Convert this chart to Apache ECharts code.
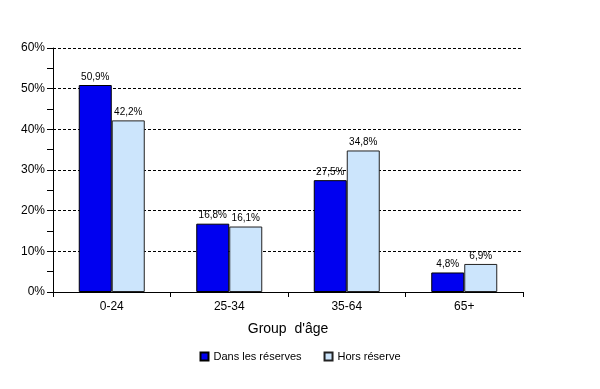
<!DOCTYPE html>
<html><head><meta charset="utf-8">
<script src="https://cdn.jsdelivr.net/npm/echarts@6/dist/echarts.min.js"></script>
<style>html,body{margin:0;padding:0;background:#fff}#c{width:600px;height:389px}</style>
</head><body><div id="c"></div>
<script>
var categories = ['0-24', '25-34', '35-64', '65+'];
var dansReserves = [50.9, 16.8, 27.5, 4.8];
var horsReserve = [42.2, 16.1, 34.8, 6.9];
var seriesNames = ['Dans les réserves', 'Hors réserve'];
var axisTitle = "Group  d'âge";

var font = 'Liberation Sans, Arial, sans-serif';
function fmt(v){ return v.toFixed(1).replace('.', ',') + '%'; }
var chart = echarts.init(document.getElementById('c'), null, {renderer:'canvas'});
chart.setOption({
  animation: false,
  backgroundColor: '#fff',
  grid: {left: 53, right: 77, top: 48, bottom: 97, containLabel: false},
  legend: {
    bottom: 22, left: 'center', itemWidth: 8, itemHeight: 8, itemGap: 22,
    textStyle: {fontFamily: font, fontSize: 11, color: '#000'},
    data: seriesNames.map(function(n){return {name:n, icon:'rect'};})
  },
  xAxis: {
    type: 'category', data: categories,
    name: axisTitle, nameLocation: 'middle', nameGap: 30,
    nameTextStyle: {fontFamily: font, fontSize: 14, color: '#000'},
    axisLine: {lineStyle: {color: '#000', width: 1}},
    axisTick: {show: true, length: 5, lineStyle: {color: '#000'}},
    axisLabel: {fontFamily: font, fontSize: 12, color: '#000', margin: 9}
  },
  yAxis: {
    type: 'value', min: 0, max: 60, interval: 10,
    axisLine: {show: true, lineStyle: {color: '#000', width: 1}},
    axisTick: {show: true, inside: false, length: 6, lineStyle: {color: '#000'}},
    minorTick: {show: true, splitNumber: 2, length: 6, lineStyle: {color: '#000'}},
    axisLabel: {fontFamily: font, fontSize: 12, color: '#000', margin: 8, formatter: '{value}%'},
    splitLine: {show: true, lineStyle: {color: '#000', type: [3, 2], width: 1}}
  },
  series: [
    {name: seriesNames[0], type: 'bar', data: dansReserves, barWidth: 33, barGap: '0%',
     itemStyle: {color: '#0000F0', borderColor: '#000', borderWidth: 1},
     label: {show: true, position: 'top', distance: 3, fontFamily: font, fontSize: 10, color: '#000', formatter: function(p){return fmt(p.value);}}},
    {name: seriesNames[1], type: 'bar', data: horsReserve, barWidth: 33,
     itemStyle: {color: '#CCE5FC', borderColor: '#222', borderWidth: 1},
     label: {show: true, position: 'top', distance: 3, fontFamily: font, fontSize: 10, color: '#000', formatter: function(p){return fmt(p.value);}}}
  ]
});
</script></body></html>
